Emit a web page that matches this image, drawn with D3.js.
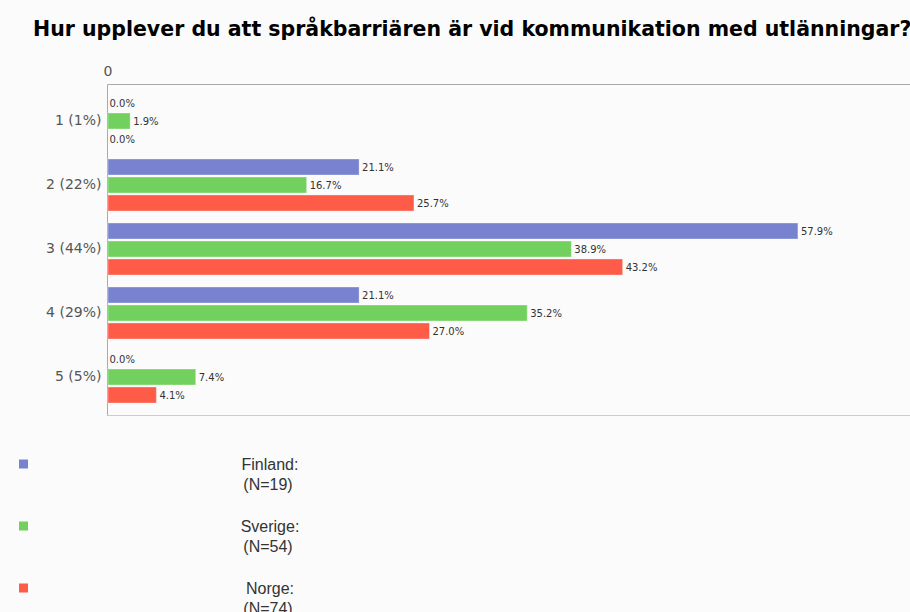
<!DOCTYPE html>
<html>
<head>
<meta charset="utf-8">
<script src="https://cdn.jsdelivr.net/npm/d3@7"></script>
<style>
  body { margin: 0; background: #fbfbfb; }
  svg { display: block; }
</style>
</head>
<body>
<div id="chart"></div>
<script>
const title = "Hur upplever du att språkbarriären är vid kommunikation med utlänningar?";
const categories = ["1 (1%)", "2 (22%)", "3 (44%)", "4 (29%)", "5 (5%)"];
const series = ["Finland", "Sverige", "Norge"];
const seriesN = ["(N=19)", "(N=54)", "(N=74)"];
const finland = [0.0, 21.1, 57.9, 21.1, 0.0];
const sverige = [1.9, 16.7, 38.9, 35.2, 7.4];
const norge = [0.0, 25.7, 43.2, 27.0, 4.1];
const colors = ["#7883d0", "#72d05f", "#ff5b49"];

const width = 910, height = 612;
const svg = d3.select("#chart").append("svg")
  .attr("width", width)
  .attr("height", height);

// title
svg.append("text")
  .attr("x", 33)
  .attr("y", 36)
  .attr("font-family", "DejaVu Sans, Verdana, sans-serif")
  .attr("font-weight", "bold")
  .attr("font-size", "20.5px")
  .attr("fill", "#000")
  .text(title);

const data = categories.map((c, i) => ({
  cat: c,
  values: [finland[i], sverige[i], norge[i]].map((v, j) => ({key: series[j], value: v, idx: j}))
}));

// scales
const x = d3.scaleLinear()
  .domain([0, 67.3])
  .range([107.5, 910]);

const y = d3.scaleBand()
  .domain(categories)
  .range([89, 409]);

const yInner = d3.scaleBand()
  .domain(series)
  .range([-27, 27])
  .paddingInner(0.11)
  .paddingOuter(0.055);

// frame lines
svg.append("line")
  .attr("x1", x(0)).attr("x2", width)
  .attr("y1", 84.5).attr("y2", 84.5)
  .attr("stroke", "#aaa");
svg.append("line")
  .attr("x1", x(0)).attr("x2", width)
  .attr("y1", 415.5).attr("y2", 415.5)
  .attr("stroke", "#ccc");

// top axis, only the 0 tick
svg.append("g")
  .attr("transform", "translate(0,84.5)")
  .call(d3.axisTop(x).tickValues([0]).tickSize(0).tickPadding(9))
  .call(g => g.select(".domain").remove())
  .call(g => g.selectAll("text")
    .attr("font-family", "DejaVu Sans, Verdana, sans-serif")
    .attr("font-size", "14px")
    .attr("fill", "#555"));

// left axis
svg.append("g")
  .attr("transform", `translate(${x(0)},0)`)
  .call(d3.axisLeft(y).tickSize(0).tickPadding(6))
  .call(g => g.select(".domain").attr("d", "M0,84.5V415.5").attr("stroke", "#aaa"))
  .call(g => g.selectAll("text")
    .attr("font-family", "DejaVu Sans, Verdana, sans-serif")
    .attr("font-size", "14px")
    .attr("fill", "#555"));

// bars
const groups = svg.selectAll(".grp")
  .data(data)
  .join("g")
  .attr("class", "grp")
  .attr("transform", d => `translate(0,${y(d.cat) + y.bandwidth() / 2})`);

groups.selectAll("rect")
  .data(d => d.values.filter(v => v.value > 0))
  .join("rect")
  .attr("x", x(0) + 0.5)
  .attr("y", d => yInner(d.key))
  .attr("width", d => x(d.value) - x(0) - 0.5)
  .attr("height", yInner.bandwidth())
  .attr("fill", d => colors[d.idx])
  .attr("stroke", "rgba(255,255,255,0.35)")
  .attr("stroke-width", 1);

groups.selectAll("text")
  .data(d => d.values)
  .join("text")
  .attr("x", d => x(d.value) + (d.value > 0 ? 3 : 2))
  .attr("y", d => yInner(d.key) + yInner.bandwidth() / 2)
  .attr("dy", "0.35em")
  .attr("font-family", "DejaVu Sans, Verdana, sans-serif")
  .attr("font-size", "10px")
  .attr("fill", "#333")
  .text(d => d.value.toFixed(1) + "%");

// legend
const legend = svg.selectAll(".leg")
  .data(series)
  .join("g")
  .attr("class", "leg")
  .attr("transform", (d, i) => `translate(0,${464 + i * 62})`);

legend.append("rect")
  .attr("x", 19).attr("y", -4.5)
  .attr("width", 9).attr("height", 9)
  .attr("fill", (d, i) => colors[i]);

legend.append("text")
  .attr("x", 270)
  .attr("y", 0)
  .attr("dy", "0.35em")
  .attr("text-anchor", "middle")
  .attr("font-family", "Liberation Sans, Arial, sans-serif")
  .attr("font-size", "16px")
  .attr("fill", "#333")
  .text(d => d + ":");

legend.append("text")
  .attr("x", 268)
  .attr("y", 20)
  .attr("dy", "0.35em")
  .attr("text-anchor", "middle")
  .attr("font-family", "Liberation Sans, Arial, sans-serif")
  .attr("font-size", "16px")
  .attr("fill", "#333")
  .text((d, i) => seriesN[i]);
</script>
</body>
</html>
